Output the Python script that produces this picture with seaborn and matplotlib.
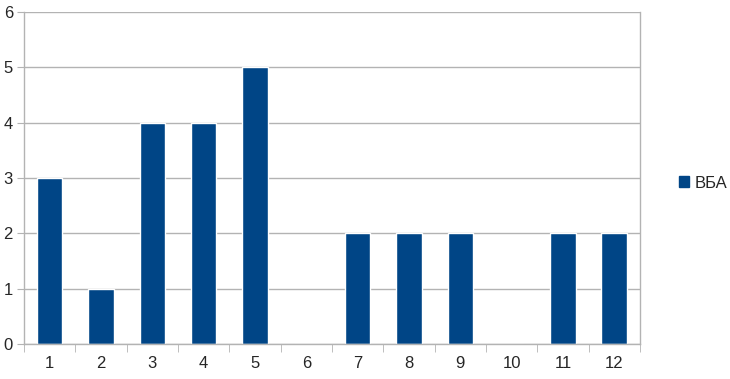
import matplotlib
matplotlib.use("Agg")
import matplotlib.pyplot as plt
import seaborn as sns
import pandas as pd
import numpy as np
from matplotlib.patches import Patch
from matplotlib.ticker import FixedLocator

categories = ["1", "2", "3", "4", "5", "6", "7", "8", "9", "10", "11", "12"]
values = [3, 1, 4, 4, 5, 0, 2, 2, 2, 0, 2, 2]
series_name = "ВБА"
yticks = [0, 1, 2, 3, 4, 5, 6]

sns.set_style("white")
plt.rcParams['font.family'] = ['Liberation Sans', 'DejaVu Sans']

df = pd.DataFrame({"cat": categories, "val": values})

fig = plt.figure(figsize=(7.3, 3.79), dpi=100)
ax = fig.add_axes([24/730, 35/379, 616/730, 332/379])
color = "#004586"
sns.barplot(data=df, x="cat", y="val", color=color, width=0.5, saturation=1, ax=ax)

ax.set_ylim(0, 6)
ax.set_xlim(-0.5, len(categories) - 0.5)
ax.set_yticks(yticks)
ax.yaxis.grid(True, color="#b3b3b3", linewidth=1)
ax.set_axisbelow(True)
ax.set_xlabel("")
ax.set_ylabel("")

for s in ["left", "bottom", "right"]:
    ax.spines[s].set_visible(True)
    ax.spines[s].set_color("#b3b3b3")
    ax.spines[s].set_linewidth(1)
ax.spines["top"].set_visible(False)

ax.tick_params(axis="y", which="major", length=5, color="#b3b3b3", direction="out",
               labelsize=12, pad=3, left=True)
ax.tick_params(axis="x", which="major", length=0, labelsize=12, pad=9)
ax.xaxis.set_minor_locator(FixedLocator(np.arange(-0.5, len(categories), 1.0)))
ax.tick_params(axis="x", which="minor", length=6, color="#b3b3b3", direction="out", bottom=True)

handles = [Patch(facecolor=color, edgecolor=color, label=series_name)]
fig.legend(handles=handles, loc="center left", bbox_to_anchor=(671/730, 196/379),
           frameon=False, fontsize=12, handlelength=0.6, handleheight=0.6,
           handletextpad=0.3, borderpad=0)

fig.savefig("out.png", dpi=100)
